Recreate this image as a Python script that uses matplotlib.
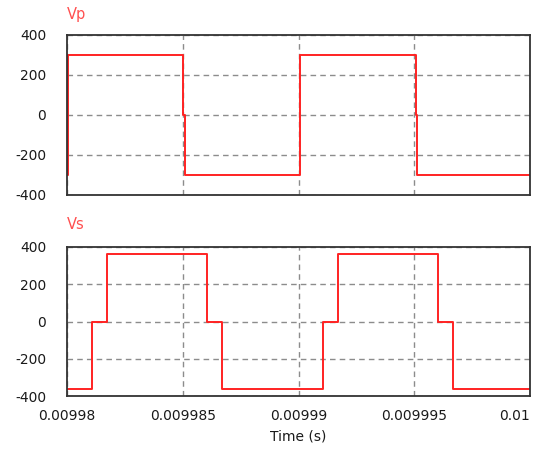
import matplotlib
matplotlib.use('Agg')
import matplotlib.pyplot as plt

plt.rcParams['font.family'] = ['DejaVu Sans']

# Vp: breakpoint times and levels (step-post)
vp_t = [0.00998, 0.00998006, 0.00998502, 0.0099851, 0.00999006,
        0.00999506, 0.00999513, 0.01]
vp_v = [-300, 300, 0, -300, 300, 0, -300, -300]

# Vs: breakpoint times and levels (step-post)
vs_t = [0.00998, 0.009981067, 0.009981715, 0.009986035, 0.009986683,
        0.00999107, 0.00999172, 0.00999604, 0.00999669, 0.01]
vs_v = [-360, 0, 360, -5, -360, 0, 360, -5, -360, -360]

x_ticks = [0.00998, 0.009985, 0.00999, 0.009995, 0.01]
x_labels = ['0.00998', '0.009985', '0.00999', '0.009995', '0.01']
y_ticks = [-400, -200, 0, 200, 400]
y_labels = ['-400', '-200', '0', '200', '400']

line_color = '#ff2222'
title_color = '#ff5050'

fig = plt.figure(figsize=(5.34, 4.5), dpi=100)
ax1 = fig.add_axes([67 / 534, 1 - 195 / 450, 463 / 534, 160 / 450])
ax2 = fig.add_axes([67 / 534, 1 - 396 / 450, 463 / 534, 149 / 450])

for ax, t, v in [(ax1, vp_t, vp_v), (ax2, vs_t, vs_v)]:
    ax.plot(t, v, drawstyle='steps-post', color=line_color, lw=1.4)
    ax.set_xlim(0.00998, 0.01)
    ax.set_ylim(-400, 400)
    ax.set_xticks(x_ticks)
    ax.set_yticks(y_ticks)
    ax.set_yticklabels(y_labels)
    ax.grid(True, color='#8c8c8c', linestyle=(0, (4, 3)), lw=1)
    ax.tick_params(length=0, labelsize=10, colors='#1a1a1a')
    ax.tick_params(axis='y', pad=15)
    ax.tick_params(axis='x', pad=9)
    for s in ax.spines.values():
        s.set_color('#333333')
        s.set_linewidth(1.3)

ax1.text(0.0, 1.08, 'Vp', transform=ax1.transAxes, color=title_color,
         fontsize=10.5, ha='left', va='bottom')
ax2.text(0.0, 1.10, 'Vs', transform=ax2.transAxes, color=title_color,
         fontsize=10.5, ha='left', va='bottom')

ax1.set_xticklabels([])
ax2.set_xticklabels(x_labels)
last = ax2.get_xticklabels()[-1]
last.set_horizontalalignment('right')
ax2.set_xlabel('Time (s)', fontsize=10, color='#1a1a1a', labelpad=5)

fig.savefig('out.png', dpi=100)
